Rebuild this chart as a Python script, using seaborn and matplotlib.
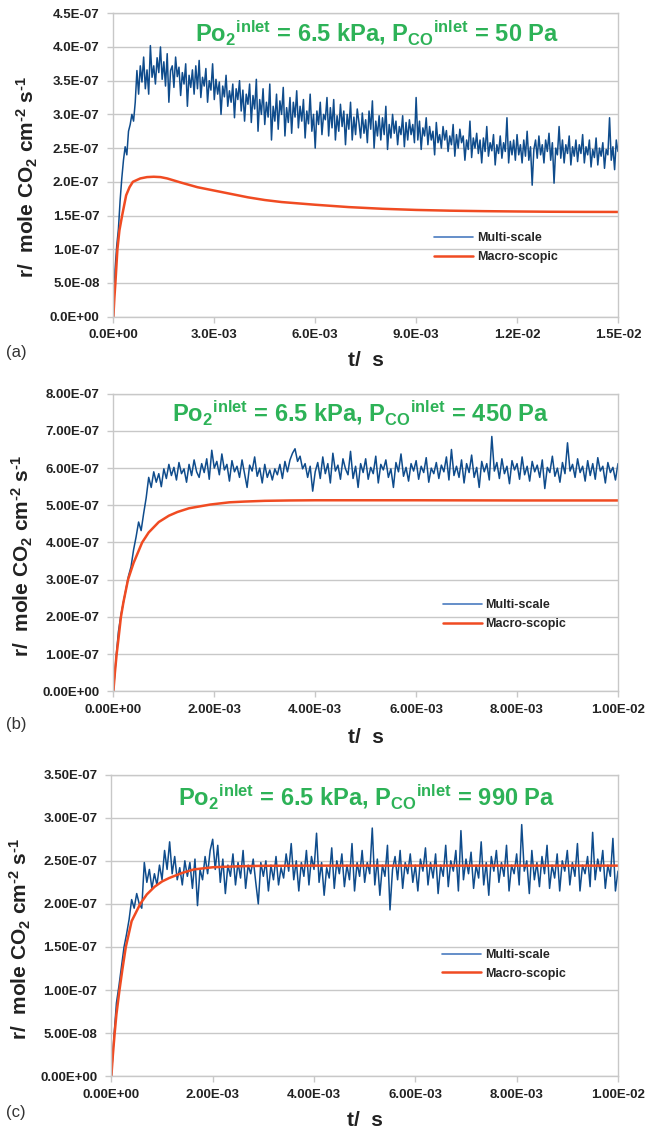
import numpy as np
import matplotlib
matplotlib.use("Agg")
import matplotlib.pyplot as plt
import seaborn as sns
from matplotlib.ticker import FuncFormatter, MultipleLocator

# Style

sns.set_theme(style="white")
plt.rcParams["font.family"] = ["Liberation Sans", "DejaVu Sans"]
plt.rcParams["font.weight"] = "bold"
plt.rcParams["mathtext.fontset"] = "custom"
plt.rcParams["mathtext.rm"] = "Liberation Sans:bold"
plt.rcParams["mathtext.it"] = "Liberation Sans:bold"
plt.rcParams["mathtext.bf"] = "Liberation Sans:bold"
plt.rcParams["mathtext.default"] = "rm"

BLUE = "#0f4c8c"
BLUE_LEGEND = "#4a7cc0"
ORANGE = "#f04b22"
GREEN = "#2db257"
GREY = "#c8c8c8"

# Data (rates in 1e-9 mole CO2 cm-2 s-1, times in ms)

dt_ms = 0.05  # sampling step of the multi-scale series

multi_a = [
    0, 70, 105, 130, 172, 205, 232, 252, 240, 275, 285, 300, 290, 318, 365, 330, 372, 348, 385, 338,
    366, 330, 402, 355, 372, 345, 384, 362, 400, 352, 378, 342, 390, 318, 365, 372, 340, 385, 356, 370,
    328, 362, 345, 375, 312, 358, 340, 366, 330, 372, 338, 380, 325, 355, 342, 368, 318, 350, 336, 375,
    322, 352, 330, 348, 300, 342, 326, 358, 312, 335, 318, 345, 295, 338, 322, 350, 305, 336, 290, 330,
    315, 345, 288, 328, 308, 352, 275, 322, 300, 338, 285, 318, 296, 345, 262, 312, 290, 330, 278, 320,
    300, 340, 268, 310, 288, 325, 272, 318, 296, 335, 280, 312, 290, 322, 265, 305, 286, 330, 275, 300,
    250, 305, 285, 318, 270, 300, 292, 325, 268, 310, 280, 322, 262, 298, 275, 315, 282, 305, 255, 300,
    278, 318, 262, 296, 270, 308, 288, 265, 302, 272, 292, 258, 305, 278, 320, 250, 290, 268, 298, 262,
    295, 270, 312, 248, 285, 265, 300, 272, 290, 255, 282, 270, 298, 252, 288, 262, 292, 270, 285, 258,
    325, 262, 290, 248, 280, 268, 295, 255, 282, 262, 275, 240, 288, 258, 270, 250, 282, 262, 276, 245,
    268, 255, 285, 238, 270, 250, 278, 258, 268, 232, 262, 248, 290, 236, 265, 250, 272, 242, 262, 228,
    265, 245, 282, 238, 258, 246, 270, 225, 255, 242, 268, 235, 258, 245, 295, 228, 260, 240, 262, 232,
    270, 240, 255, 228, 262, 238, 275, 232, 252, 195, 248, 262, 235, 268, 240, 255, 228, 262, 245, 272,
    232, 258, 198, 250, 240, 282, 235, 262, 228, 255, 242, 268, 225, 252, 238, 262, 230, 255, 242, 270,
    228, 252, 240, 262, 222, 248, 236, 265, 225, 250, 238, 258, 220, 248, 240, 295, 232, 252, 218, 262,
    245,
]
macro_a_t = [0, 0.03, 0.06, 0.12, 0.18, 0.26, 0.38, 0.48, 0.58, 0.8, 1.0, 1.2, 1.4, 1.6, 2.0, 2.5,
             3.0, 3.5, 4.0, 4.5, 5.0, 5.5, 6.0, 7.0, 8.0, 9.0, 10.0, 11.0, 12.0, 13.0, 14.0, 15.0]
macro_a = [0, 28, 50, 100, 128, 150, 180, 192, 200, 205, 207, 207.5, 207, 205, 199, 192,
           187, 182, 177, 173, 170, 168, 166, 162.5, 160, 158.3, 157.2, 156.5, 156, 155.6, 155.4, 155.3]

multi_b = [
    0, 85, 160, 205, 240, 275, 310, 335, 380, 415, 455, 432, 478, 520, 575, 548, 590, 562, 585, 550,
    598, 572, 610, 580, 602, 568, 615, 585, 598, 562, 610, 580, 622, 590, 575, 612, 588, 625, 570, 648,
    600, 618, 582, 638, 595, 610, 565, 620, 590, 605, 575, 622, 585, 548, 608, 592, 630, 578, 600, 560,
    610, 575, 595, 568, 598, 582, 610, 572, 618, 590, 622, 640, 652, 618, 632, 598, 612, 575, 605, 538,
    590, 615, 572, 630, 585, 612, 560, 640, 592, 608, 570, 625, 598, 582, 645, 572, 605, 548, 612, 588,
    625, 570, 602, 585, 632, 560, 610, 595, 622, 575, 598, 548, 615, 590, 638, 578, 602, 565, 612, 592,
    620, 570, 605, 588, 628, 562, 600, 585, 615, 572, 608, 590, 630, 568, 650, 580, 605, 575, 622, 560,
    612, 588, 635, 575, 602, 548, 618, 590, 612, 568, 685, 592, 615, 572, 625, 585, 605, 558, 620, 595,
    612, 570, 630, 582, 605, 565, 618, 590, 608, 575, 622, 545, 602, 588, 632, 578, 600, 562, 615, 585,
    668, 592, 610, 575, 625, 588, 605, 565, 620, 580, 612, 570, 628, 592, 605, 560, 615, 588, 602, 568,
    612,
]
macro_b_t = [0, 0.03, 0.065, 0.1, 0.15, 0.2, 0.29, 0.4, 0.57, 0.7, 0.9, 1.1, 1.27, 1.5, 1.92,
             2.3, 2.6, 3.0, 3.5, 4.0, 5.0, 6.0, 8.0, 10.0]
macro_b = [0, 50, 100, 140, 200, 240, 300, 345, 400, 427, 455, 472, 482, 492, 502,
           508, 510, 512, 513, 513.5, 513.5, 513.5, 513, 513]

multi_c = [
    0, 45, 85, 105, 128, 150, 165, 182, 205, 195, 212, 200, 195, 248, 225, 240, 218, 235, 222, 245,
    228, 262, 240, 272, 235, 255, 228, 242, 222, 250, 232, 248, 218, 252, 198, 240, 228, 255, 235, 262,
    275, 240, 268, 225, 252, 212, 245, 232, 258, 222, 248, 230, 262, 218, 245, 235, 252, 225, 200, 248,
    232, 250, 215, 245, 228, 255, 222, 242, 230, 258, 238, 270, 228, 250, 215, 248, 232, 262, 222, 255,
    240, 282, 225, 248, 210, 242, 230, 265, 218, 250, 235, 258, 220, 245, 228, 270, 215, 248, 232, 262,
    225, 248, 235, 288, 222, 252, 210, 245, 232, 268, 193, 240, 255, 228, 262, 218, 248, 235, 258, 225,
    245, 215, 252, 238, 265, 222, 248, 230, 258, 212, 245, 232, 268, 220, 250, 238, 262, 215, 285, 228,
    252, 235, 260, 218, 245, 230, 272, 222, 248, 210, 255, 238, 262, 225, 248, 232, 268, 215, 245, 235,
    258, 222, 292, 238, 250, 212, 262, 228, 248, 220, 255, 235, 268, 218, 245, 230, 258, 215, 250, 238,
    262, 222, 248, 232, 270, 215, 245, 235, 255, 220, 283, 228, 252, 238, 262, 218, 245, 232, 276, 215,
    238,
]
macro_c_t = [0, 0.03, 0.065, 0.1, 0.16, 0.22, 0.285, 0.4, 0.57, 0.7, 0.855, 1.0, 1.14, 1.4, 1.63,
             2.0, 2.2, 2.6, 3.0, 4.0, 6.0, 8.0, 10.0]
macro_c = [0, 25, 50, 72, 100, 125, 150, 180, 200, 211, 220, 226, 230, 236, 240,
           242.5, 243, 243.8, 244.2, 244.4, 244.4, 244.4, 244.4]

titles = [
    r"$Po_2{}^{inlet}$ = 6.5 kPa, $P_{CO}{}^{inlet}$ = 50 Pa",
    r"$Po_2{}^{inlet}$ = 6.5 kPa, $P_{CO}{}^{inlet}$ = 450 Pa",
    r"$Po_2{}^{inlet}$ = 6.5 kPa, $P_{CO}{}^{inlet}$ = 990 Pa",
]
y_title = "r/  mole CO$_2$ cm$^{\u20102}$ s$^{\u20101}$"
panel_tags = ["(a)", "(b)", "(c)"]
series_labels = ["Multi-scale", "Macro-scopic"]

# Figure

fig = plt.figure(figsize=(6.46, 11.31), dpi=100)

panels = [
    dict(rect=[0.1755, 0.7200, 0.7811, 0.2683], multi=multi_a, mt=macro_a_t, mv=macro_a,
         xmax=15e-3, xstep=3e-3, ymax=4.5e-7, ystep=5e-8, dec=1,
         title_xy=(0.523, 0.935), leg_xy=(0.636, 0.279), ylab_xy=(-0.171, 0.459),
         xlab_y=-0.143, tag_xy=(6, 352)),
    dict(rect=[0.1755, 0.3888, 0.7811, 0.2631], multi=multi_b, mt=macro_b_t, mv=macro_b,
         xmax=10e-3, xstep=2e-3, ymax=8e-7, ystep=1e-7, dec=2,
         title_xy=(0.490, 0.933), leg_xy=(0.653, 0.310), ylab_xy=(-0.180, 0.455),
         xlab_y=-0.154, tag_xy=(6, 724)),
    dict(rect=[0.1724, 0.0484, 0.7842, 0.2667], multi=multi_c, mt=macro_c_t, mv=macro_c,
         xmax=10e-3, xstep=2e-3, ymax=3.5e-7, ystep=5e-8, dec=2,
         title_xy=(0.504, 0.925), leg_xy=(0.653, 0.422), ylab_xy=(-0.179, 0.455),
         xlab_y=-0.147, tag_xy=(6, 1112)),
]

for p, title, tag in zip(panels, titles, panel_tags):
    ax = fig.add_axes(p["rect"])

    t_multi = np.arange(len(p["multi"])) * dt_ms * 1e-3
    y_multi = np.array(p["multi"]) * 1e-9
    t_macro = np.array(p["mt"]) * 1e-3
    y_macro = np.array(p["mv"]) * 1e-9

    sns.lineplot(x=t_multi, y=y_multi, ax=ax, color=BLUE, linewidth=1.1,
                 label=series_labels[0], estimator=None)
    sns.lineplot(x=t_macro, y=y_macro, ax=ax, color=ORANGE, linewidth=1.8,
                 label=series_labels[1], estimator=None)

    ax.set_xlim(0, p["xmax"])
    ax.set_ylim(0, p["ymax"])
    ax.xaxis.set_major_locator(MultipleLocator(p["xstep"]))
    ax.yaxis.set_major_locator(MultipleLocator(p["ystep"]))
    d = p["dec"]
    ax.xaxis.set_major_formatter(FuncFormatter(lambda v, pos, d=d: f"{v:.{d}E}"))
    ax.yaxis.set_major_formatter(FuncFormatter(lambda v, pos, d=d: f"{v:.{d}E}"))

    ax.yaxis.grid(True, color=GREY, linewidth=1)
    ax.xaxis.grid(False)
    ax.set_axisbelow(True)
    for s in ax.spines.values():
        s.set_color(GREY)
        s.set_linewidth(1)
    ax.tick_params(axis="both", bottom=True, left=True, direction="out", length=4,
                   width=1, color=GREY, labelsize=9.5, labelcolor="#222222")
    ax.tick_params(axis="y", pad=6)
    ax.tick_params(axis="x", pad=5)

    ax.set_xlabel("")
    ax.set_ylabel("")
    ax.text(0.5, p["xlab_y"], "t/  s", transform=ax.transAxes, ha="center", va="center",
            fontsize=15, color="#222222")
    ax.text(p["ylab_xy"][0], p["ylab_xy"][1], y_title,
            transform=ax.transAxes, rotation=90, ha="center", va="center",
            fontsize=15, color="#222222")
    ax.text(p["title_xy"][0], p["title_xy"][1], title, transform=ax.transAxes,
            ha="center", va="center", fontsize=17, color=GREEN)

    leg = ax.legend(loc="upper left", bbox_to_anchor=p["leg_xy"], frameon=False, borderpad=0,
                    borderaxespad=0, handlelength=3.1, handletextpad=0.3, labelspacing=0.55,
                    prop={"weight": "bold", "size": 9})
    leg.get_lines()[0].set_color(BLUE_LEGEND)
    leg.get_lines()[0].set_linewidth(1.2)

    fig.text(p["tag_xy"][0] / 646, 1 - p["tag_xy"][1] / 1131, tag, ha="left", va="center",
             fontsize=12, fontweight="normal", color="#333333")

fig.savefig("out.png", dpi=100)
